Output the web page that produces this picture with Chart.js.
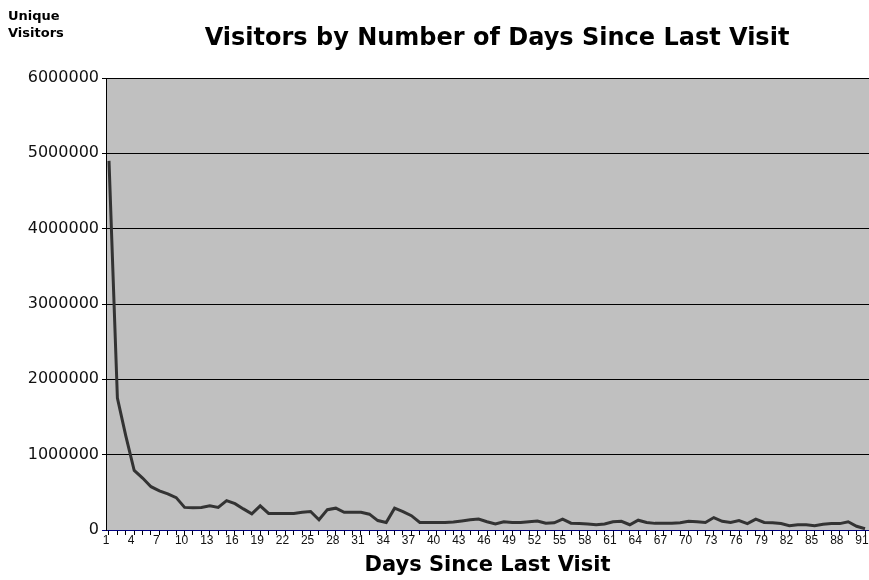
<!DOCTYPE html>
<html>
<head>
<meta charset="utf-8">
<script src="https://cdn.jsdelivr.net/npm/chart.js@4/dist/chart.umd.min.js"></script>
<style>
  html, body { margin: 0; padding: 0; background: #ffffff; }
  #wrap { position: relative; width: 869px; height: 580px; }
  canvas { display: block; }
</style>
</head>
<body>
<div id="wrap"><canvas id="c" width="869" height="580"></canvas></div>
<script>
// ---- data ----
const chartTitle = "Visitors by Number of Days Since Last Visit";
const yAxisTitle = ["Unique", "Visitors"];
const xAxisTitle = "Days Since Last Visit";

const days = [
  1, 2, 3, 4, 5, 6, 7, 8, 9, 10, 11, 12, 13, 14, 15, 16, 17, 18, 19, 20,
  21, 22, 23, 24, 25, 26, 27, 28, 29, 30, 31, 32, 33, 34, 35, 36, 37, 38, 39, 40,
  41, 42, 43, 44, 45, 46, 47, 48, 49, 50, 51, 52, 53, 54, 55, 56, 57, 58, 59, 60,
  61, 62, 63, 64, 65, 66, 67, 68, 69, 70, 71, 72, 73, 74, 75, 76, 77, 78, 79, 80,
  81, 82, 83, 84, 85, 86, 87, 88, 89, 90, 91
];

const visitors = [
  4900000, 1750000, 1250000, 790000, 690000, 575000, 520000, 480000, 430000, 300000,
  295000, 300000, 320000, 300000, 390000, 350000, 280000, 215000, 320000, 220000,
  220000, 220000, 220000, 235000, 245000, 135000, 270000, 290000, 235000, 235000,
  235000, 210000, 125000, 100000, 290000, 245000, 190000, 100000, 100000, 100000,
  100000, 105000, 120000, 135000, 145000, 110000, 80000, 110000, 100000, 100000,
  110000, 120000, 90000, 95000, 145000, 90000, 85000, 80000, 70000, 80000,
  110000, 115000, 70000, 130000, 100000, 88000, 88000, 88000, 95000, 115000,
  110000, 100000, 165000, 115000, 100000, 125000, 85000, 145000, 100000, 95000,
  85000, 57000, 70000, 70000, 57000, 77000, 85000, 85000, 110000, 50000,
  17000
];

const yTicks = [0, 1000000, 2000000, 3000000, 4000000, 5000000, 6000000];
const xLabelDays = [1, 4, 7, 10, 13, 16, 19, 22, 25, 28, 31, 34, 37, 40, 43, 46, 49, 52, 55, 58, 61, 64, 67, 70, 73, 76, 79, 82, 85, 88, 91];

// ---- chart ----
const points = days.map((d, i) => ({ x: d, y: visitors[i] }));

const plotBg = {
  id: 'plotBg',
  beforeDraw(chart) {
    const { ctx, chartArea: a } = chart;
    ctx.save();
    ctx.fillStyle = '#c0c0c0';
    ctx.fillRect(a.left, a.top, a.right - a.left, a.bottom - a.top);
    ctx.restore();
  }
};

const texts = {
  id: 'texts',
  afterDraw(chart) {
    const ctx = chart.ctx;
    ctx.save();
    ctx.fillStyle = '#000000';
    ctx.textBaseline = 'middle';
    ctx.textAlign = 'center';
    ctx.font = 'bold 24px "DejaVu Sans"';
    ctx.fillText(chartTitle, 497, 39);
    ctx.textAlign = 'left';
    ctx.font = 'bold 13px "DejaVu Sans"';
    ctx.fillText(yAxisTitle[0], 8, 17);
    ctx.fillText(yAxisTitle[1], 8, 34);
    ctx.restore();
  }
};

new Chart(document.getElementById('c'), {
  type: 'line',
  data: {
    datasets: [{
      data: points,
      borderColor: '#333333',
      borderWidth: 3,
      pointRadius: 0,
      tension: 0,
      fill: false
    }]
  },
  options: {
    responsive: false,
    animation: false,
    devicePixelRatio: 1,
    layout: { padding: { top: 78, right: 0, bottom: 0, left: 0 } },
    plugins: { legend: { display: false }, tooltip: { enabled: false }, title: { display: false } },
    scales: {
      x: {
        type: 'linear',
        min: 0.643,
        max: 91.476,
        afterBuildTicks(scale) { scale.ticks = days.map(v => ({ value: v })); },
        afterFit(scale) { scale.height = 50; scale.paddingLeft = 0; scale.paddingRight = 0; },
        ticks: {
          autoSkip: false,
          maxRotation: 0,
          minRotation: 0,
          padding: -2,
          labelOffset: -3,
          color: '#111111',
          font: { family: '"Liberation Sans"', size: 12 },
          callback: (v) => xLabelDays.includes(v) ? String(v) : ''
        },
        grid: { drawOnChartArea: false, drawTicks: true, tickLength: 5, color: '#000000', lineWidth: 1 },
        border: { display: true, color: '#000080', width: 1 },
        title: {
          display: true,
          text: xAxisTitle,
          color: '#000000',
          font: { family: '"DejaVu Sans"', size: 21, weight: 'bold' },
          padding: { top: 4, bottom: 2 }
        }
      },
      y: {
        min: 0,
        max: 6000000,
        afterBuildTicks(scale) { scale.ticks = yTicks.map(v => ({ value: v })); },
        afterFit(scale) { scale.width = 106; },
        ticks: {
          padding: 3,
          color: '#111111',
          font: { family: '"DejaVu Sans"', size: 16 },
          callback: (v) => String(v)
        },
        grid: {
          drawTicks: true,
          tickLength: 4,
          lineWidth: 1,
          color: (c) => (c.tick && c.tick.value === 0) ? '#000080' : '#000000'
        },
        border: { display: true, color: '#000000', width: 1 }
      }
    }
  },
  plugins: [plotBg, texts]
});
</script>
</body>
</html>
